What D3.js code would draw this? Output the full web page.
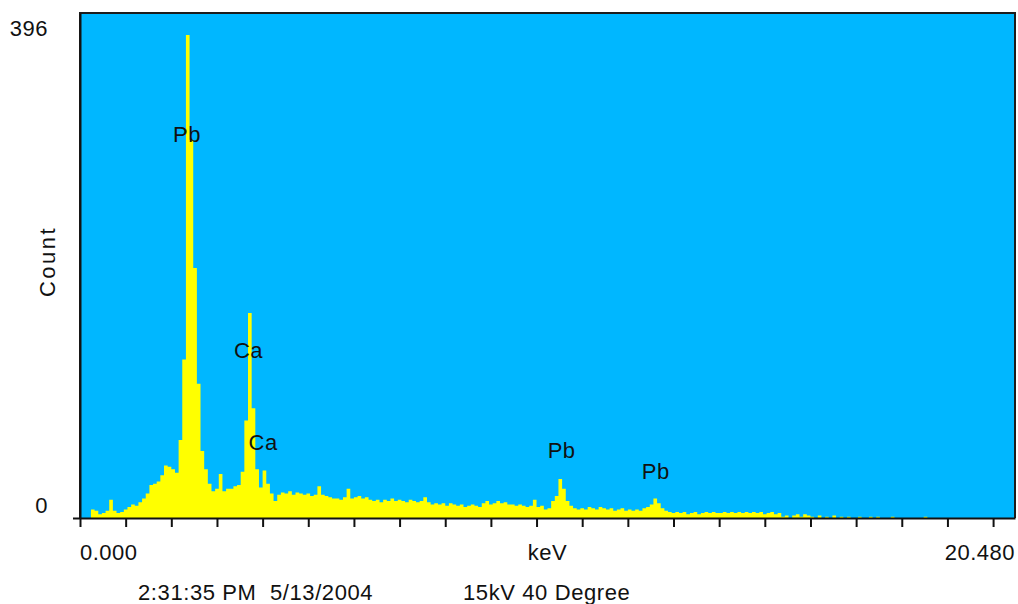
<!DOCTYPE html>
<html>
<head>
<meta charset="utf-8">
<script src="https://cdn.jsdelivr.net/npm/d3@7"></script>
<style>
  body { margin: 0; background: #fff; }
  text { font-family: Arial, "Liberation Sans", sans-serif; fill: #111; }
</style>
</head>
<body>
<div id="chart"></div>
<script>
// one channel = 0.08 keV, 256 channels up to 20.48 keV
const channelWidth = 0.08;
const counts = [
    0, 0, 0, 7, 6, 3, 4, 6, 15, 6,
    4, 5, 7, 9, 11, 10, 13, 16, 20, 27,
    28, 30, 35, 43, 42, 40, 37, 64, 130, 396,
    310, 205, 110, 55, 40, 28, 22, 24, 36, 22,
    24, 24, 26, 27, 38, 80, 168, 90, 40, 25,
    39, 28, 20, 14, 19, 21, 20, 22, 19, 21,
    20, 19, 20, 18, 19, 26, 19, 18, 17, 16,
    16, 15, 17, 24, 16, 17, 18, 16, 17, 15,
    14, 15, 13, 15, 14, 16, 14, 15, 14, 13,
    15, 14, 13, 14, 17, 13, 11, 12, 11, 12,
    10, 12, 11, 10, 11, 9, 10, 11, 10, 9,
    12, 14, 11, 12, 14, 12, 13, 11, 11, 10,
    11, 10, 9, 10, 15, 9, 10, 7, 8, 14,
    18, 32, 24, 14, 10, 8, 7, 8, 7, 9,
    8, 7, 9, 8, 7, 8, 6, 7, 8, 6,
    7, 6, 7, 6, 8, 9, 11, 16, 12, 8,
    6, 5, 4, 5, 4, 5, 3, 4, 5, 3,
    4, 5, 4, 5, 4, 4, 5, 4, 5, 4,
    5, 4, 5, 4, 5, 4, 5, 3, 4, 5,
    3, 4, 1, 2, 0, 2, 3, 1, 3, 2,
    1, 0, 2, 0, 1, 0, 2, 0, 1, 0,
    1, 0, 0, 1, 0, 0, 1, 0, 1, 0,
    0, 0, 1, 0, 0, 0, 0, 0, 0, 0,
    0, 1, 0, 0, 0, 0, 0, 0, 0, 0,
    0, 0, 0, 0, 0, 0, 0, 0, 0, 0,
    0, 0, 0, 0, 0, 0
];
const peakNames = ["Pb", "Ca", "Ca", "Pb", "Pb"];
const peakEnergies = [2.345, 3.69, 4.01, 10.55, 12.61];
const peakLabelCounts = [308, 131, 56, 49, 32];
const keVTicks = [0, 1, 2, 3, 4, 5, 6, 7, 8, 9, 10, 11, 12, 13, 14, 15, 16, 17, 18, 19, 20];
const countLabels = [396, 0];
const xEndLabels = ["0.000", "20.480"];
const footerTexts = ["2:31:35 PM  5/13/2004", "15kV 40 Degree"];

class SpectrumChart {
    constructor(element, configs = {}) {
        let defaultConfig = {
            width: 1018,
            height: 604,
            margin: {top: 13, right: 3, bottom: 86, left: 80},
            maxEnergy: 20.48,
            maxCount: 414
        };
        this.config = Object.assign({}, defaultConfig, configs);
        this.svg = d3.select(element).append("svg")
            .attr("width", this.config.width)
            .attr("height", this.config.height);
        this.width = this.config.width - this.config.margin.left - this.config.margin.right;
        this.height = this.config.height - this.config.margin.top - this.config.margin.bottom;
        this.draw();
    }

    generateRange() {
        this.x = d3.scaleLinear().domain([0, this.config.maxEnergy]).range([0, this.width]);
        this.y = d3.scaleLinear().domain([0, this.config.maxCount]).range([this.height, 0]);
    }

    drawPlot() {
        this.g = this.svg.append("g")
            .attr("transform", "translate(" + this.config.margin.left + "," + this.config.margin.top + ")");

        this.g.append("rect")
            .attr("width", this.width)
            .attr("height", this.height)
            .attr("fill", "#00b7ff");

        let points = counts.map((c, i) => ({e: i * channelWidth, c: c}));
        points.push({e: counts.length * channelWidth, c: counts[counts.length - 1]});

        let area = d3.area()
            .curve(d3.curveStepAfter)
            .x(d => this.x(d.e))
            .y0(this.height)
            .y1(d => this.y(d.c));

        this.g.append("path")
            .datum(points)
            .attr("fill", "#ffff00")
            .attr("d", area);

        // border on top and right
        this.g.append("path")
            .attr("d", "M0," + this.height + "V0H" + this.width + "V" + this.height)
            .attr("fill", "none")
            .attr("stroke", "#1c1c1c")
            .attr("stroke-width", 2);
    }

    drawAxes() {
        let xAxis = this.g.append("g")
            .attr("transform", "translate(0," + this.height + ")")
            .call(d3.axisBottom(this.x).tickValues(keVTicks).tickSize(9).tickSizeOuter(0).tickFormat(""));
        xAxis.selectAll("path, line").attr("stroke", "#111").attr("stroke-width", 2);

        let yAxis = this.g.append("g")
            .call(d3.axisLeft(this.y).tickValues([0]).tickSize(7).tickSizeOuter(0).tickFormat(""));
        yAxis.selectAll("path, line").attr("stroke", "#111").attr("stroke-width", 2);

        this.g.selectAll(".count-label")
            .data(countLabels)
            .enter().append("text")
            .attr("class", "count-label")
            .attr("x", -32)
            .attr("y", (d, i) => this.y(d) + (i === 0 ? 1 : -5))
            .attr("text-anchor", "end")
            .style("font-size", "22px")
            .style("letter-spacing", "0.5px")
            .text(d => d);

        this.g.append("text")
            .attr("transform", "translate(-25," + (this.height / 2 - 4) + ") rotate(-90)")
            .attr("text-anchor", "middle")
            .style("font-size", "22px")
            .style("letter-spacing", "2.5px")
            .text("Count");

        let labelY = this.height + 42;
        this.g.append("text")
            .attr("x", 0).attr("y", labelY)
            .style("font-size", "22px")
            .style("letter-spacing", "0.5px")
            .text(xEndLabels[0]);
        this.g.append("text")
            .attr("x", this.width).attr("y", labelY)
            .attr("text-anchor", "end")
            .style("font-size", "22px")
            .style("letter-spacing", "0.5px")
            .text(xEndLabels[1]);
        this.g.append("text")
            .attr("x", this.width / 2).attr("y", labelY)
            .attr("text-anchor", "middle")
            .style("font-size", "22px")
            .style("letter-spacing", "0.5px")
            .text("keV");
    }

    drawPeakLabels() {
        this.g.selectAll(".peak")
            .data(peakNames)
            .enter().append("text")
            .attr("class", "peak")
            .attr("x", (d, i) => this.x(peakEnergies[i]))
            .attr("y", (d, i) => this.y(peakLabelCounts[i]))
            .attr("text-anchor", "middle")
            .style("font-size", "22px")
            .style("letter-spacing", "0.5px")
            .text(d => d);
    }

    drawFooter() {
        let xs = [138, 463];
        this.svg.selectAll(".footer")
            .data(footerTexts)
            .enter().append("text")
            .attr("class", "footer")
            .attr("x", (d, i) => xs[i])
            .attr("y", 600)
            .style("font-size", "22px")
            .style("letter-spacing", "0.6px")
            .style("white-space", "pre")
            .text(d => d);
    }

    draw() {
        this.generateRange();
        this.drawPlot();
        this.drawAxes();
        this.drawPeakLabels();
        this.drawFooter();
    }
}

new SpectrumChart("#chart");
</script>
</body>
</html>
